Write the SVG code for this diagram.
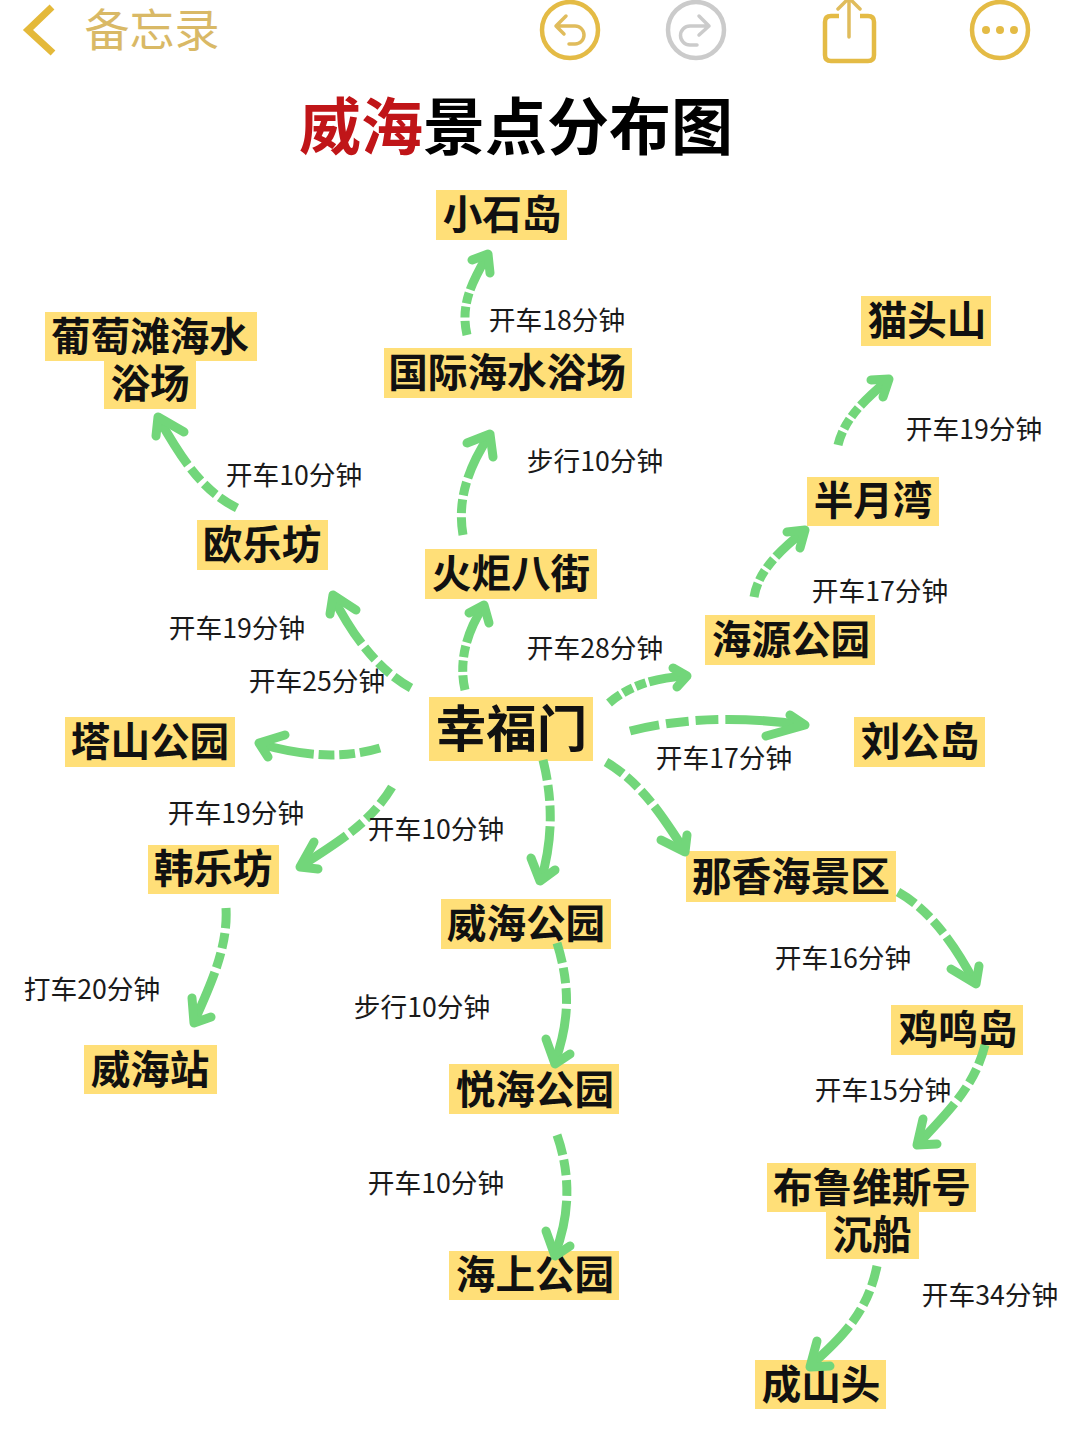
<svg xmlns="http://www.w3.org/2000/svg" width="1080" height="1440" viewBox="0 0 1080 1440">
<style>
text{font-family:"Noto Sans CJK SC","Noto Sans",sans-serif;text-anchor:middle}
.b{fill:#ffdf78}
.n{font-size:39.6px;font-weight:700;fill:#111}
.l{font-size:26.7px;fill:#1a1a1a}
.a{fill:none;stroke:#72d67a;stroke-width:9;stroke-dasharray:17 4 13 4 13 4 45;stroke-linecap:butt}
.h{fill:none;stroke:#72d67a;stroke-width:9;stroke-linecap:round;stroke-linejoin:round}
.y{fill:none;stroke:#e4bb45;stroke-width:4.5}
.t{fill:none;stroke:#e0bc5c;stroke-width:3.5;stroke-linecap:round;stroke-linejoin:round}
.g{fill:none;stroke:#cbcbcb;stroke-width:4.5}
.s{fill:none;stroke:#cbcbcb;stroke-width:3.5;stroke-linecap:round;stroke-linejoin:round}
</style>
<rect width="1080" height="1440" fill="#fff"/>
<g id="header">
<path d="M52 7 L28 30 L53 53" fill="none" stroke="#e4b93a" stroke-width="7"/>
<text x="152" y="47" font-size="45" fill="#d9b966">备忘录</text>
<circle class="y" cx="570" cy="30" r="28"/>
<path class="t" d="M566 16 L556 26 L564 34 M556 26 H575 A9 9 0 0 1 575 44 H569"/>
<circle class="g" cx="696" cy="30" r="28"/>
<path class="s" d="M699 16 L709 26 L699 35 M709 26 H690 A9.500 9.500 0 0 0 690 45 H697"/>
<path class="y" d="M839 16 H831 Q825 16 825 22 V55 Q825 61 831 61 H868 Q874 61 874 55 V22 Q874 16 868 16 H860"/>
<path class="t" d="M849 37 V0 M838 9 L849 -2 L860 9"/>
<circle class="y" cx="1000" cy="30" r="28"/>
<g fill="#e4bb45"><circle cx="986" cy="30" r="4"/><circle cx="1000" cy="30" r="4"/><circle cx="1014" cy="30" r="4"/></g>
</g>
<text id="title" x="516" y="150" font-size="62" font-weight="700"><tspan fill="#c01518">威海</tspan><tspan fill="#000">景点分布图</tspan></text>
<g id="n-xiaoshidao"><rect class="b" x="436" y="190" width="131" height="50"/><text class="n" x="502" y="229">小石岛</text></g>
<g id="n-guoji"><rect class="b" x="384" y="348" width="248" height="50"/><text class="n" x="507" y="387">国际海水浴场</text></g>
<g id="n-maotoushan"><rect class="b" x="861" y="296" width="130" height="50"/><text class="n" x="927" y="335">猫头山</text></g>
<g id="n-putaotan"><rect class="b" x="45" y="312" width="212" height="49"/><rect class="b" x="104" y="361" width="92" height="48"/><text class="n"><tspan x="150" y="351">葡萄滩海水</tspan><tspan x="150" y="398">浴场</tspan></text></g>
<g id="n-banyuewan"><rect class="b" x="807" y="477" width="132" height="49"/><text class="n" x="873" y="515">半月湾</text></g>
<g id="n-oulefang"><rect class="b" x="197" y="520" width="131" height="50"/><text class="n" x="262" y="559">欧乐坊</text></g>
<g id="n-huoju"><rect class="b" x="425" y="549" width="172" height="50"/><text class="n" x="511" y="588">火炬八街</text></g>
<g id="n-haiyuan"><rect class="b" x="705" y="615" width="170" height="50"/><text class="n" x="791" y="654">海源公园</text></g>
<g id="n-xingfumen"><rect class="b" x="429" y="697" width="164" height="64"/><text class="n" x="511.500" y="747" style="font-size:50.500px">幸福门</text></g>
<g id="n-tashan"><rect class="b" x="65" y="717" width="170" height="50"/><text class="n" x="150" y="756">塔山公园</text></g>
<g id="n-liugong"><rect class="b" x="854" y="717" width="131" height="50"/><text class="n" x="920" y="756">刘公岛</text></g>
<g id="n-hanlefang"><rect class="b" x="148" y="845" width="131" height="49"/><text class="n" x="213" y="883">韩乐坊</text></g>
<g id="n-naxiang"><rect class="b" x="686" y="851" width="210" height="51"/><text class="n" x="791" y="891">那香海景区</text></g>
<g id="n-weihaipark"><rect class="b" x="441" y="899" width="170" height="50"/><text class="n" x="526" y="938">威海公园</text></g>
<g id="n-jiming"><rect class="b" x="891" y="1005" width="132" height="50"/><text class="n" x="958" y="1044">鸡鸣岛</text></g>
<g id="n-station"><rect class="b" x="84" y="1045" width="133" height="49"/><text class="n" x="150" y="1084">威海站</text></g>
<g id="n-yuehai"><rect class="b" x="449" y="1064" width="170" height="50"/><text class="n" x="535" y="1104">悦海公园</text></g>
<g id="n-bulu"><rect class="b" x="767" y="1163" width="209" height="49"/><rect class="b" x="826" y="1212" width="93" height="47"/><text class="n"><tspan x="872" y="1202">布鲁维斯号</tspan><tspan x="872" y="1249">沉船</tspan></text></g>
<g id="n-haishang"><rect class="b" x="449" y="1251" width="170" height="49"/><text class="n" x="535" y="1289">海上公园</text></g>
<g id="n-chengshan"><rect class="b" x="755" y="1360" width="131" height="49"/><text class="n" x="821" y="1399">成山头</text></g>
<g id="connectors">
<path class="a" pathLength="100" d="M467 335 C460 305 472 282 487 256"/><path class="h" d="M472 260 L488 254 L490 273"/>
<path class="a" pathLength="100" d="M463 535 C457 500 468 468 489 436"/><path class="h" d="M467 443 L490 434 L493 457"/>
<path class="a" pathLength="100" d="M465 690 C458 660 468 630 483 607"/><path class="h" d="M469 613 L484 605 L489 623"/>
<path class="a" pathLength="100" d="M411 688 C378 670 352 635 333 597"/><path class="h" d="M330 614 L333 595 L356 610"/>
<path class="a" pathLength="100" d="M237 508 C205 492 185 465 159 419"/><path class="h" d="M156 436 L158 417 L184 432"/>
<path class="a" pathLength="100" d="M380 748 C340 760 300 755 260 744"/><path class="h" d="M285 735 L259 743 L268 757"/>
<path class="a" pathLength="100" d="M392 787 C372 820 345 838 301 866"/><path class="h" d="M314 842 L300 867 L318 869"/>
<path class="a" pathLength="100" d="M226 908 C228 945 213 980 194 1022"/><path class="h" d="M192 998 L194 1023 L211 1017"/>
<path class="a" pathLength="100" d="M543 760 C553 800 553 840 541 880"/><path class="h" d="M531 858 L540 881 L555 870"/>
<path class="a" pathLength="100" d="M606 762 C640 782 662 815 685 851"/><path class="h" d="M661 840 L685 852 L687 835"/>
<path class="a" pathLength="100" d="M609 703 C630 685 655 678 686 676"/><path class="h" d="M673 668 L687 676 L677 687"/>
<path class="a" pathLength="100" d="M630 731 C680 718 740 716 804 725"/><path class="h" d="M790 715 L805 725 L766 736"/>
<path class="a" pathLength="100" d="M754 597 C758 572 778 552 804 531"/><path class="h" d="M787 532 L805 530 L800 548"/>
<path class="a" pathLength="100" d="M838 445 C844 420 862 402 888 380"/><path class="h" d="M871 380 L889 379 L883 397"/>
<path class="a" pathLength="100" d="M898 892 C930 910 955 945 975 983"/><path class="h" d="M951 969 L976 984 L979 966"/>
<path class="a" pathLength="100" d="M985 1045 C975 1085 950 1110 918 1144"/><path class="h" d="M923 1119 L917 1145 L937 1144"/>
<path class="a" pathLength="100" d="M557 943 C570 985 570 1020 555 1062"/><path class="h" d="M546 1039 L555 1064 L570 1054"/>
<path class="a" pathLength="100" d="M557 1135 C571 1175 570 1215 555 1254"/><path class="h" d="M546 1231 L555 1256 L570 1246"/>
<path class="a" pathLength="100" d="M877 1266 C868 1310 845 1335 811 1365"/><path class="h" d="M817 1341 L810 1367 L830 1366"/>
</g>
<g id="labels">
<text class="l" x="557" y="330">开车18分钟</text>
<text class="l" x="974" y="439">开车19分钟</text>
<text class="l" x="595" y="471">步行10分钟</text>
<text class="l" x="294" y="485">开车10分钟</text>
<text class="l" x="880" y="601">开车17分钟</text>
<text class="l" x="237" y="638">开车19分钟</text>
<text class="l" x="595" y="658">开车28分钟</text>
<text class="l" x="317" y="691">开车25分钟</text>
<text class="l" x="724" y="768">开车17分钟</text>
<text class="l" x="236" y="823">开车19分钟</text>
<text class="l" x="436" y="839">开车10分钟</text>
<text class="l" x="843" y="968">开车16分钟</text>
<text class="l" x="92" y="999">打车20分钟</text>
<text class="l" x="422" y="1017">步行10分钟</text>
<text class="l" x="883" y="1100">开车15分钟</text>
<text class="l" x="436" y="1193">开车10分钟</text>
<text class="l" x="990" y="1305">开车34分钟</text>
</g>
</svg>
